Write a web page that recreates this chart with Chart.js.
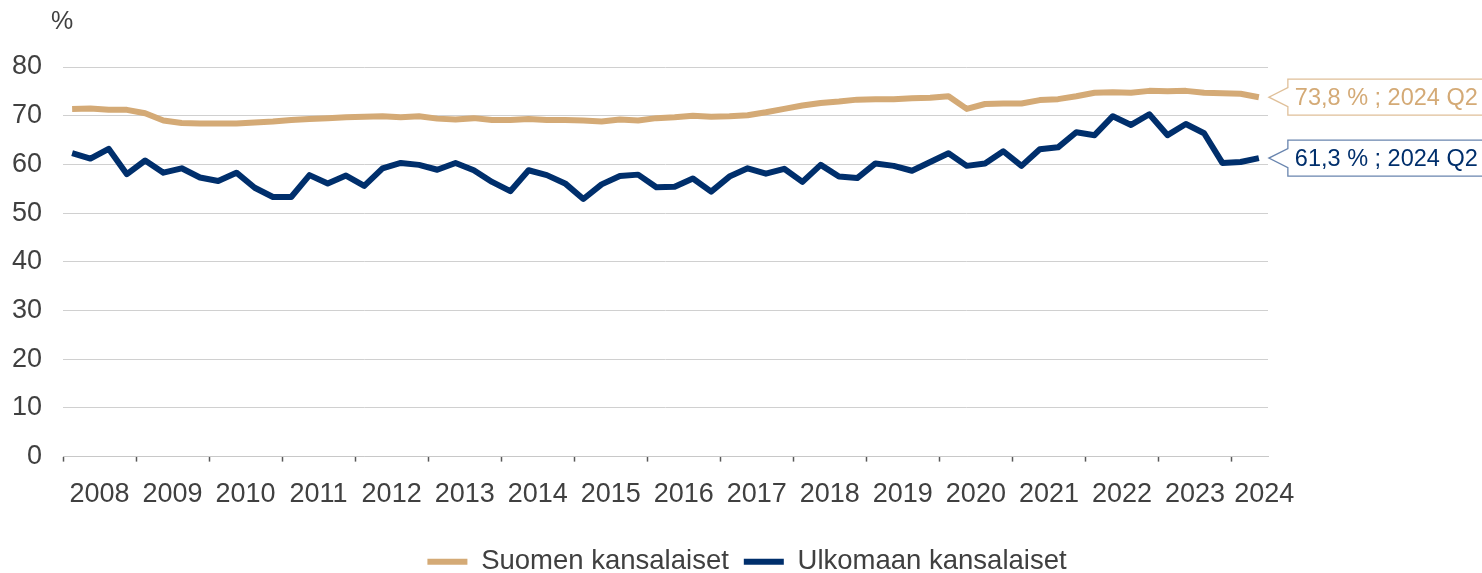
<!DOCTYPE html>
<html>
<head>
<meta charset="utf-8">
<script src="https://cdn.jsdelivr.net/npm/chart.js@4/dist/chart.umd.min.js"></script>
<style>
  html, body { margin: 0; padding: 0; background: #ffffff; }
  #wrap { width: 1482px; height: 573px; position: relative; }
</style>
</head>
<body>
<div id="wrap"><canvas id="c" width="1482" height="573"></canvas></div>
<script>
// ---- Data (quarterly, 2008 Q1 – 2024 Q2) ----
const years = ['2008','2009','2010','2011','2012','2013','2014','2015','2016','2017','2018','2019','2020','2021','2022','2023','2024'];
const seriesNames = ['Suomen kansalaiset', 'Ulkomaan kansalaiset'];
const suomen = [
  71.4, 71.5, 71.2, 71.2, 70.5, 69.0, 68.5, 68.4, 68.4, 68.4,
  68.6, 68.8, 69.1, 69.3, 69.5, 69.7, 69.8, 69.9, 69.7, 69.9,
  69.4, 69.2, 69.5, 69.1, 69.1, 69.3, 69.1, 69.1, 69.0, 68.8,
  69.2, 69.0, 69.5, 69.7, 70.0, 69.8, 69.9, 70.1, 70.7, 71.4,
  72.1, 72.6, 72.9, 73.3, 73.4, 73.4, 73.6, 73.7, 74.0, 71.4,
  72.4, 72.5, 72.5, 73.2, 73.4, 74.0, 74.7, 74.8, 74.7, 75.1,
  75.0, 75.1, 74.7, 74.6, 74.5, 73.8
];
const ulkomaan = [
  62.3, 61.2, 63.2, 58.0, 60.8, 58.3, 59.2, 57.3, 56.6, 58.3,
  55.2, 53.3, 53.3, 57.8, 56.1, 57.7, 55.6, 59.2, 60.3, 59.9,
  58.9, 60.3, 58.8, 56.4, 54.5, 58.8, 57.8, 56.1, 52.9, 55.9,
  57.6, 57.9, 55.3, 55.4, 57.1, 54.4, 57.5, 59.2, 58.1, 59.1,
  56.4, 59.9, 57.5, 57.2, 60.2, 59.7, 58.7, 60.5, 62.3, 59.7,
  60.2, 62.7, 59.7, 63.1, 63.5, 66.6, 66.0, 69.9, 68.1, 70.3,
  66.0, 68.3, 66.4, 60.3, 60.5, 61.3
];
const lastQuarterLabel = '2024 Q2';
const yMin = 0, yMax = 80, yStep = 10;

// ---- Derived helpers ----
const nQ = suomen.length;
const quartersPerYear = 4;
const yearStarts = years.map((y, k) => k * quartersPerYear - 0.5);
const lastYearShift = 0.8;
const yearCenters = years.map((y, k) => {
  const count = Math.min(quartersPerYear, nQ - k * quartersPerYear);
  let c = k * quartersPerYear + (count - 1) / 2;
  if (count < quartersPerYear) c += lastYearShift;
  return c;
});

const TAN = '#D4AA76';
const NAVY = '#002F6C';
const TEXT = '#404040';
const FONT = 'Liberation Sans';

const overlay = {
  id: 'overlay',
  afterDatasetsDraw(chart) {
    const ctx = chart.ctx;
    const ys = chart.scales.y;
    ctx.save();
    ctx.font = '25px "' + FONT + '"';
    ctx.fillStyle = TEXT;
    ctx.textAlign = 'center';
    ctx.textBaseline = 'middle';
    ctx.fillText('%', chart.chartArea.left - 1, ys.getPixelForValue(yMax) - 45);

    const borders = ['rgba(212,170,118,0.75)', 'rgba(40,80,140,0.7)'];
    chart.data.datasets.forEach((ds, di) => {
      const meta = chart.getDatasetMeta(di);
      const pt = meta.data[meta.data.length - 1];
      const tipX = pt.x + 10, y = pt.y;
      const left = tipX + 19, top = y - 18, bottom = y + 18, right = chart.width + 10;
      ctx.beginPath();
      ctx.moveTo(right, top);
      ctx.lineTo(left, top);
      ctx.lineTo(left, y - 9.5);
      ctx.lineTo(tipX, y);
      ctx.lineTo(left, y + 9.5);
      ctx.lineTo(left, bottom);
      ctx.lineTo(right, bottom);
      ctx.fillStyle = '#ffffff';
      ctx.fill();
      ctx.lineWidth = 1.3;
      ctx.strokeStyle = borders[di];
      ctx.stroke();
      const v = ds.data[ds.data.length - 1].y;
      const txt = v.toFixed(1).replace('.', ',') + ' % ; ' + lastQuarterLabel;
      ctx.font = '23.5px "' + FONT + '"';
      ctx.textAlign = 'left';
      ctx.textBaseline = 'middle';
      ctx.fillStyle = ds.borderColor;
      ctx.fillText(txt, left + 7, y + 1);
    });
    ctx.restore();
  }
};

const toPoints = arr => arr.map((v, i) => ({ x: i, y: v }));

new Chart(document.getElementById('c'), {
  type: 'line',
  data: {
    datasets: [
      { label: seriesNames[0], data: toPoints(suomen), borderColor: TAN, backgroundColor: TAN,
        borderWidth: 6, pointRadius: 0, tension: 0, borderJoinStyle: 'round', borderCapStyle: 'butt', xAxisID: 'x', yAxisID: 'y' },
      { label: seriesNames[1], data: toPoints(ulkomaan), borderColor: NAVY, backgroundColor: NAVY,
        borderWidth: 6, pointRadius: 0, tension: 0, borderJoinStyle: 'round', borderCapStyle: 'butt', xAxisID: 'x', yAxisID: 'y' }
    ]
  },
  options: {
    responsive: false,
    animation: false,
    devicePixelRatio: 1,
    layout: { padding: { left: 12, right: 0, top: 67, bottom: -12.5 } },
    plugins: {
      tooltip: { enabled: false },
      legend: {
        position: 'bottom',
        labels: {
          boxWidth: 40, boxHeight: 6, padding: 15, color: TEXT,
          font: { family: FONT, size: 27.5 },
          generateLabels: chart => Chart.defaults.plugins.legend.labels.generateLabels(chart)
            .map(l => Object.assign({}, l, { fillStyle: l.strokeStyle, lineWidth: 0 }))
        }
      }
    },
    scales: {
      x: {
        type: 'linear', position: 'bottom', min: -0.5, max: nQ - 0.5,
        afterBuildTicks: a => { a.ticks = yearStarts.map(v => ({ value: v })); },
        ticks: { display: false },
        grid: { drawOnChartArea: false, drawTicks: true, tickLength: 5, tickColor: '#595959', tickWidth: 1.5 },
        border: { display: true, color: '#c8c8c8', width: 1 }
      },
      x2: {
        type: 'linear', position: 'bottom', min: -0.5, max: nQ - 0.5,
        afterBuildTicks: a => { a.ticks = yearCenters.map(v => ({ value: v })); },
        ticks: { autoSkip: false, maxRotation: 0, minRotation: 0, padding: 17, color: TEXT,
                 font: { family: FONT, size: 27 }, callback: (v, i) => years[i] },
        grid: { display: false, drawTicks: false },
        border: { display: false },
        afterFit: a => { a.height += 5; }
      },
      y: {
        position: 'left', min: yMin, max: yMax,
        ticks: { stepSize: yStep, padding: 21, color: TEXT, font: { family: FONT, size: 27 } },
        grid: { color: '#d0d0d0', lineWidth: 1, drawTicks: false },
        border: { display: false },
        afterFit: a => { a.width = 51; }
      },
      yR: {
        position: 'right', display: true,
        ticks: { display: false },
        grid: { display: false, drawTicks: false },
        border: { display: false },
        afterFit: a => { a.width = 214; }
      }
    }
  },
  plugins: [overlay]
});
</script>
</body>
</html>
